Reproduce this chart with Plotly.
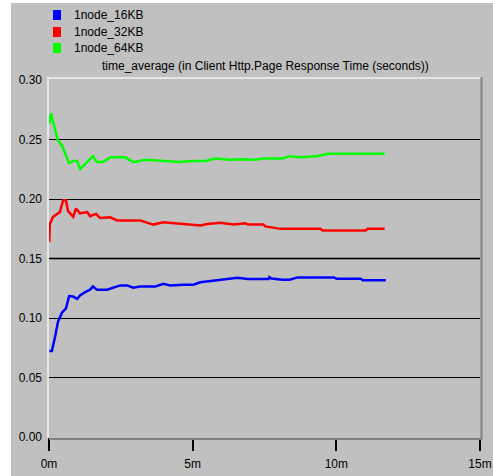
import plotly.graph_objects as go

# ---- data (x in minutes, y in seconds) ----
series_names = ["1node_16KB", "1node_32KB", "1node_64KB"]
series_colors = ["#0000FF", "#FF0000", "#00FF00"]

x_16 = [0.01, 0.10, 0.21, 0.31, 0.45, 0.59, 0.70, 0.84, 0.98, 1.08, 1.26, 1.43, 1.53, 1.67, 2.02,
        2.23, 2.48, 2.72, 2.93, 3.17, 3.70, 3.98, 4.22, 4.67, 5.02, 5.27, 5.62, 5.86, 6.07, 6.56,
        6.91, 7.64, 7.67, 7.74, 8.13, 8.37, 8.65, 9.91, 10.01, 10.85, 10.92, 11.72]
y_16 = [0.0723, 0.0723, 0.084, 0.0966, 0.1045, 0.108, 0.1184, 0.118, 0.116, 0.119, 0.1218, 0.1238,
        0.1265, 0.1238, 0.1238, 0.1254, 0.1274, 0.1274, 0.1254, 0.1265, 0.1265, 0.1288, 0.1274,
        0.128, 0.128, 0.130, 0.131, 0.1316, 0.1324, 0.1338, 0.1327, 0.1327, 0.1343, 0.1332, 0.1321,
        0.1321, 0.1341, 0.1341, 0.133, 0.133, 0.1318, 0.1318]

x_32 = [0.01, 0.03, 0.14, 0.28, 0.38, 0.49, 0.59, 0.66, 0.84, 0.94, 1.08, 1.33, 1.43, 1.64, 1.78,
        2.13, 2.37, 3.17, 3.42, 3.63, 3.98, 4.57, 5.02, 5.27, 5.51, 5.96, 6.42, 6.84, 6.91, 7.46,
        7.53, 7.78, 8.06, 9.45, 9.52, 11.02, 11.09, 11.68]
y_32 = [0.164, 0.179, 0.185, 0.187, 0.189, 0.199, 0.199, 0.190, 0.185, 0.192, 0.188, 0.189, 0.1855,
        0.1875, 0.184, 0.1846, 0.182, 0.182, 0.180, 0.1785, 0.1804, 0.179, 0.1777, 0.1777, 0.179,
        0.180, 0.1785, 0.1796, 0.1785, 0.1785, 0.177, 0.1762, 0.1749, 0.1749, 0.1735, 0.1735,
        0.1749, 0.1749]

x_64 = [0.01, 0.07, 0.31, 0.45, 0.70, 0.84, 0.98, 1.08, 1.53, 1.67, 1.88, 2.13, 2.65, 2.93, 3.35,
        3.87, 4.57, 4.92, 5.44, 5.79, 6.31, 6.66, 7.19, 7.43, 8.13, 8.37, 8.75, 9.31, 9.73, 10.50,
        11.68]
y_64 = [0.263, 0.272, 0.249, 0.245, 0.230, 0.232, 0.232, 0.225, 0.236, 0.231, 0.231, 0.235, 0.235,
        0.231, 0.233, 0.232, 0.231, 0.232, 0.232, 0.234, 0.233, 0.2335, 0.233, 0.234, 0.234, 0.236,
        0.235, 0.236, 0.238, 0.238, 0.238]

x_tick_vals = [0, 5, 10, 15]
x_tick_text = ["0m", "5m", "10m", "15m"]
y_tick_vals = [0.00, 0.05, 0.10, 0.15, 0.20, 0.25, 0.30]
y_tick_text = ["0.00", "0.05", "0.10", "0.15", "0.20", "0.25", "0.30"]
chart_title = "time_average (in Client Http.Page Response Time (seconds))"

# ---- layout geometry ----
W, H = 493, 476
L, R, T, B = 49, 13, 80, 39
PW, PH = W - L - R, H - T - B


def px_x(px):
    return (px - L) / PW


def px_y(py):
    return (H - B - py) / PH


FONT = "Liberation Sans, Arial, sans-serif"

fig = go.Figure()
for xs, ys, name, col in [(x_16, y_16, series_names[0], series_colors[0]),
                          (x_32, y_32, series_names[1], series_colors[1]),
                          (x_64, y_64, series_names[2], series_colors[2])]:
    fig.add_trace(go.Scatter(x=xs, y=ys, mode="lines", name=name,
                             line=dict(color=col, width=2.5), showlegend=False,
                             hoverinfo="skip"))

shapes = []
# gray panel background
shapes.append(dict(type="rect", xref="paper", yref="paper", layer="below",
                   x0=px_x(11), x1=px_x(W + 2), y0=px_y(H + 2), y1=px_y(3),
                   fillcolor="#C0C0C0", line=dict(width=0)))
# darker 0.15 grid line
shapes.append(dict(type="line", xref="paper", yref="y", x0=0, x1=1, y0=0.15, y1=0.15,
                   line=dict(color="#505050", width=2), layer="below"))
# sunken frame: light top/left, gray right/bottom
shapes.append(dict(type="line", xref="paper", yref="paper", x0=px_x(47), x1=px_x(481),
                   y0=px_y(78), y1=px_y(78), line=dict(color="#E6E6E6", width=2)))
shapes.append(dict(type="line", xref="paper", yref="paper", x0=px_x(48), x1=px_x(48),
                   y0=px_y(78), y1=px_y(438), line=dict(color="#E6E6E6", width=2)))
shapes.append(dict(type="line", xref="paper", yref="paper", x0=px_x(481.5), x1=px_x(481.5),
                   y0=px_y(77), y1=px_y(440), line=dict(color="#808080", width=2)))
shapes.append(dict(type="line", xref="paper", yref="paper", x0=px_x(49), x1=px_x(482),
                   y0=px_y(439), y1=px_y(439), line=dict(color="#808080", width=2)))

annotations = []
# legend (squares + labels)
leg_y = [15, 32, 48]
for name, col, cy in zip(series_names, series_colors, leg_y):
    shapes.append(dict(type="rect", xref="paper", yref="paper",
                       x0=px_x(53), x1=px_x(61), y0=px_y(cy + 5), y1=px_y(cy - 5),
                       fillcolor=col, line=dict(width=0)))
    annotations.append(dict(xref="paper", yref="paper", x=px_x(72), y=px_y(cy),
                            xanchor="left", yanchor="middle", showarrow=False,
                            text=name, font=dict(family=FONT, size=12, color="#000000")))
annotations.append(dict(xref="paper", yref="paper", x=px_x(265), y=px_y(66),
                        xanchor="center", yanchor="middle", showarrow=False,
                        text=chart_title, font=dict(family=FONT, size=12, color="#000000")))

fig.update_layout(
    width=W, height=H,
    autosize=False,
    margin=dict(l=L, r=R, t=T, b=B, pad=0, autoexpand=False),
    paper_bgcolor="#FFFFFF",
    plot_bgcolor="rgba(0,0,0,0)",
    font=dict(family=FONT, size=12, color="#000000"),
    showlegend=False,
    shapes=shapes,
    annotations=annotations,
    xaxis=dict(range=[0, 15], tickvals=x_tick_vals, ticktext=x_tick_text,
               showgrid=False, zeroline=False, showline=False, automargin=False,
               ticks="outside", ticklen=13, tickwidth=2, tickcolor="#000000",
               ticklabelstandoff=3, fixedrange=True),
    yaxis=dict(range=[0, 0.30], tickvals=y_tick_vals, ticktext=y_tick_text,
               showgrid=True, gridcolor="#000000", gridwidth=1, automargin=False,
               zeroline=False, showline=False, ticks="", ticklabelstandoff=6,
               fixedrange=True),
)

fig.write_html("out.html", config={"responsive": False})
